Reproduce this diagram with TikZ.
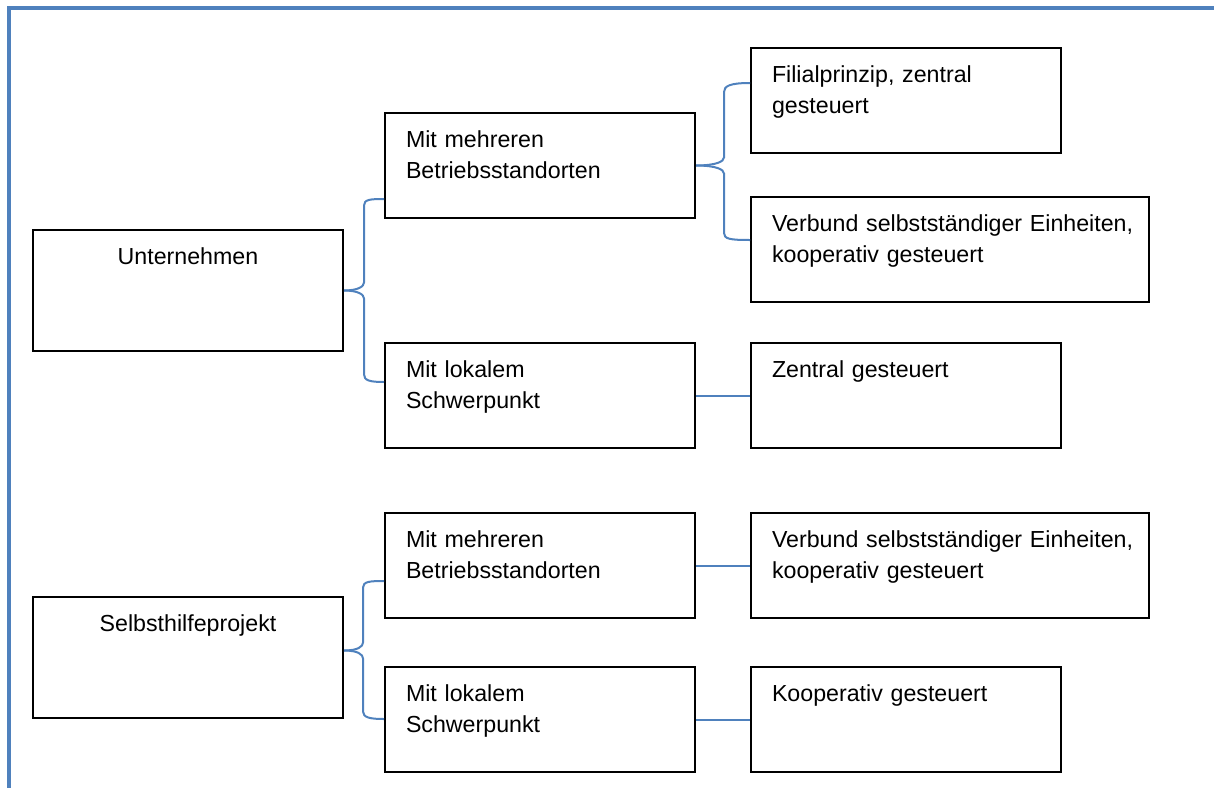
\documentclass[tikz,border=0pt]{standalone}
\usepackage{fontspec}
\setmainfont{Liberation Sans}
\usetikzlibrary{arrows}

\definecolor{wordblue}{RGB}{79,129,189}

\begin{document}
\begin{tikzpicture}[x=0.5pt,y=-0.5pt,
                    font=\fontsize{11.6pt}{15.5pt}\selectfont,
                    cell/.style={draw=black,line width=1pt,anchor=north west,inner sep=0pt,
                                 text height=17pt,text depth=35.5pt,text width=155pt},
                    box/.style={cell,align=left,execute at begin node={\leftskip=10.5pt}},
                    head/.style={cell,align=center,text depth=43.5pt},
                    wide/.style={text width=199pt},
                    link/.style={draw=wordblue,line width=1pt}]
  \useasboundingbox (0,0) rectangle (1214,787);

  % outer frame (only top and left edge visible)
  \draw[wordblue,line width=2pt] (9,795) |- (1220,7.5);

  \node[head]     (u)  at (32,229)  {Unternehmen};
  \node[head]     (s)  at (32,596)  {Selbsthilfeprojekt};

  \node[box]      (m1) at (384,112) {Mit mehreren\\Betriebsstandorten};
  \node[box]      (l1) at (384,342) {Mit lokalem\\Schwerpunkt};
  \node[box]      (m2) at (384,512) {Mit mehreren\\Betriebsstandorten};
  \node[box]      (l2) at (384,666) {Mit lokalem\\Schwerpunkt};

  \node[box]      (f)  at (750,47)  {Filialprinzip, zentral\\gesteuert};
  \node[box,wide] (v1) at (750,196) {Verbund selbstständiger Einheiten,\\kooperativ gesteuert};
  \node[box]      (z)  at (750,342) {Zentral gesteuert};
  \node[box,wide] (v2) at (750,512) {Verbund selbstständiger Einheiten,\\kooperativ gesteuert};
  \node[box]      (k)  at (750,666) {Kooperativ gesteuert};

  % braces
  \path[link] (u.east) .. controls +(14,0) and +(0,4) .. ++(20,-8) -- ++(0,-77)
              .. controls +(0,-6) and +(-14,0) .. ([yshift=10pt]m1.south west);
  \path[link] (u.east) .. controls +(14,0) and +(0,-4) .. ++(20,8) -- ++(0,76)
              .. controls +(0,6) and +(-14,0) .. ([yshift=-20pt]l1.north west);

  \path[link] (m1.east) .. controls +(20,0) and +(0,4) .. ++(28,-8) -- ++(0,-65.5)
              .. controls +(0,-6) and +(-20,0) .. ([yshift=-18pt]f.north west);
  \path[link] (m1.east) .. controls +(20,0) and +(0,-4) .. ++(28,8) -- ++(0,59.5)
              .. controls +(0,6) and +(-20,0) .. ([yshift=-22pt]v1.north west);

  \path[link] ([yshift=3.5pt]s.east) .. controls +(14,0) and +(0,4) .. ++(19,-8) -- ++(0,-55)
              .. controls +(0,-6) and +(-14,0) .. ([yshift=19pt]m2.south west);
  \path[link] ([yshift=3.5pt]s.east) .. controls +(14,0) and +(0,-4) .. ++(19,8) -- ++(0,53)
              .. controls +(0,6) and +(-14,0) .. ([yshift=-26.5pt]l2.north west);

  % straight links
  \path[link] (l1) -- (z)
              (m2) -- (v2)
              (l2) -- (k);
\end{tikzpicture}
\end{document}
